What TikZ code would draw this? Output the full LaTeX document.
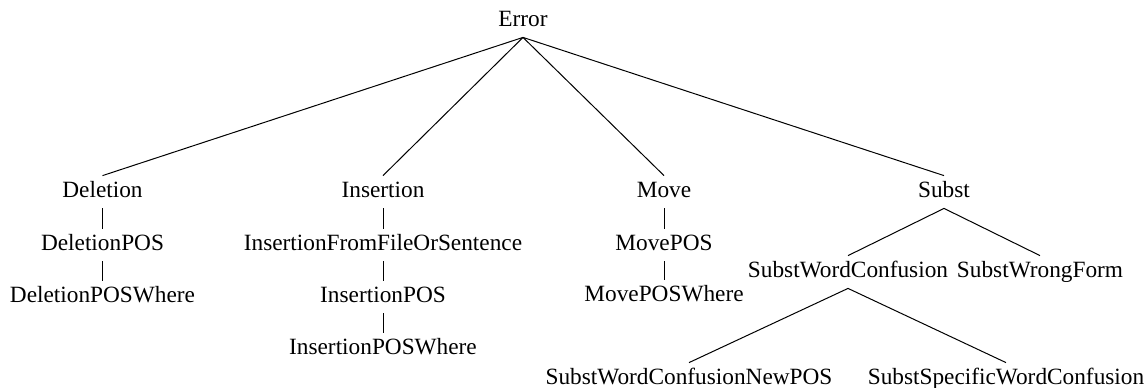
\documentclass[tikz,border=0pt]{standalone}
\usepackage{fontspec}
\setmainfont{Liberation Serif}
\begin{document}
\begin{tikzpicture}[x=0.5pt,y=-0.5pt,
  lbl/.style={anchor=base,inner xsep=0pt,inner ysep=3pt,text height=7.5pt,text depth=2.5pt,font=\fontsize{11.65}{14}\selectfont},
  edge/.style={line width=0.5pt,black}]
\useasboundingbox (0,0) rectangle (1144,387);
% nodes
\node[lbl] (err) at (523,26) {Error};
\node[lbl] (del) at (102.5,197) {Deletion};
\node[lbl] (delpos) at (102.5,250) {DeletionPOS};
\node[lbl] (delposw) at (102.5,302) {DeletionPOSWhere};
\node[lbl] (ins) at (383,197) {Insertion};
\node[lbl] (insff) at (383,250) {InsertionFromFileOrSentence};
\node[lbl] (inspos) at (383,302) {InsertionPOS};
\node[lbl] (insposw) at (383,354) {InsertionPOSWhere};
\node[lbl] (mov) at (664,197) {Move};
\node[lbl] (movpos) at (664,250) {MovePOS};
\node[lbl] (movposw) at (664,301) {MovePOSWhere};
\node[lbl] (sub) at (944,197) {Subst};
\node[lbl] (swc) at (848,277) {SubstWordConfusion};
\node[lbl] (swf) at (1040,277) {SubstWrongForm};
\node[lbl] (swcnp) at (689,384) {SubstWordConfusionNewPOS};
\node[lbl] (sswc) at (1006,384) {SubstSpecificWordConfusion};
% edges
\draw[edge] (err.south) -- (del.north);
\draw[edge] (err.south) -- (ins.north);
\draw[edge] (err.south) -- (mov.north);
\draw[edge] (err.south) -- (sub.north);
\draw[edge] (del.south) -- (delpos.north);
\draw[edge] (delpos.south) -- (delposw.north);
\draw[edge] (ins.south) -- (insff.north);
\draw[edge] (insff.south) -- (inspos.north);
\draw[edge] (inspos.south) -- (insposw.north);
\draw[edge] (mov.south) -- (movpos.north);
\draw[edge] (movpos.south) -- (movposw.north);
\draw[edge] (sub.south) -- (swc.north);
\draw[edge] (sub.south) -- (swf.north);
\draw[edge] (swc.south) -- (swcnp.north);
\draw[edge] (swc.south) -- (sswc.north);
\end{tikzpicture}
\end{document}
